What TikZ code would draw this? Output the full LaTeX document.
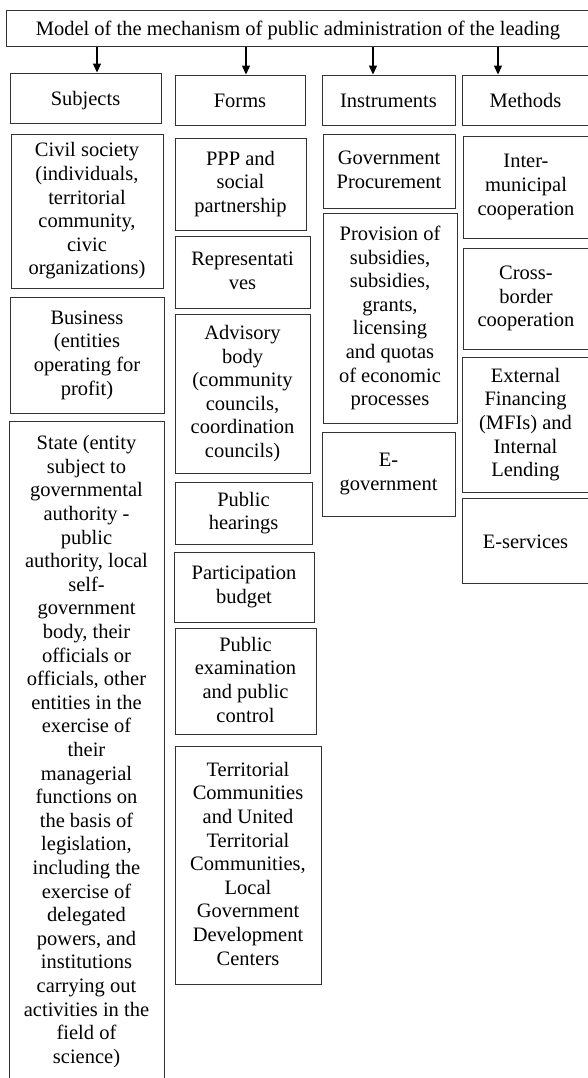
\documentclass[tikz,border=0pt]{standalone}
\usepackage{fontspec}
\setmainfont{Liberation Serif}
\usetikzlibrary{arrows.meta}

% box spanning (x1,y1)-(x2,y2) in pixel-like units, text centred
\newcommand\boxat[6]{%
  \node[box,minimum width=#4pt-#2pt,minimum height=#5pt-#3pt]
    (#1) at ({(#2+#4)/2},{(#3+#5)/2}) {#6};}
% fixed line box so that first/last lines centre like word-processor lines
\newcommand\linestrut{\rule[-3pt]{0pt}{22pt}}

\tikzset{
  box/.style={draw=black!80,line width=0.9pt,rectangle,inner sep=0pt,
    align=center,font=\fontsize{20.5}{23.6}\selectfont,
    execute at begin node=\linestrut,execute at end node=\linestrut},
  arr/.style={draw=black,line width=1.2pt,-{Triangle[length=9pt,width=8pt]}}
}

\begin{document}
\begin{tikzpicture}[x=1pt,y=-1pt]
\useasboundingbox (0,0) rectangle (587,1078);

% title
\boxat{title}{6}{10}{590}{46.7}{Model of the mechanism of public administration of the leading}

% column headers
\boxat{hsub}{10}{73}{161}{123}{Subjects}
\boxat{hform}{175}{75}{305}{125}{Forms}
\boxat{hinst}{322}{75}{455}{125}{Instruments}
\boxat{hmeth}{462}{75}{589}{125}{Methods}

\draw[arr] ([xshift=11.5]hsub.north |- title.south) -- ([xshift=11.5]hsub.north);
\draw[arr] ([xshift=6]hform.north |- title.south) -- ([xshift=6]hform.north);
\draw[arr] ([xshift=-15.5]hinst.north |- title.south) -- ([xshift=-15.5]hinst.north);
\draw[arr] ([xshift=-27.5]hmeth.north |- title.south) -- ([xshift=-27.5]hmeth.north);

% subjects
\boxat{civ}{11}{134}{163}{288}{Civil society\\(individuals,\\territorial\\community,\\civic\\organizations)}
\boxat{bus}{10}{297}{164}{413}{Business\\(entities\\operating for\\profit)}
\boxat{state}{9}{421}{164}{1082}{State (entity\\subject to\\governmental\\authority -\\public\\authority, local\\self-\\government\\body, their\\officials or\\officials, other\\entities in the\\exercise of\\their\\managerial\\functions on\\the basis of\\legislation,\\including the\\exercise of\\delegated\\powers, and\\institutions\\carrying out\\activities in the\\field of\\science)}

% forms
\boxat{ppp}{175}{138}{306}{230}{PPP and\\social\\partnership}
\boxat{rep}{175}{236}{310}{308}{Representati\\ves}
\boxat{adv}{175}{314}{310}{473}{Advisory\\body\\(community\\councils,\\coordination\\councils)}
\boxat{hear}{175}{482}{312}{544}{Public\\hearings}
\boxat{part}{174}{552}{314}{622}{Participation\\budget}
\boxat{exam}{175}{628}{316}{734}{Public\\examination\\and public\\control}
\boxat{terr}{175}{746}{321}{984}{Territorial\\Communities\\and United\\Territorial\\Communities,\\Local\\Government\\Development\\Centers}

% instruments
\boxat{proc}{323}{134}{455}{208}{Government\\Procurement}
\boxat{prov}{323}{213}{457}{423}{Provision of\\subsidies,\\subsidies,\\grants,\\licensing\\and quotas\\of economic\\processes}
\boxat{egov}{322}{432}{455}{516}{E-\\government}

% methods
\boxat{inter}{463}{136}{589}{238}{Inter-\\municipal\\cooperation}
\boxat{cross}{463}{248}{589}{349}{Cross-\\border\\cooperation}
\boxat{ext}{462}{357}{589}{492}{External\\Financing\\(MFIs) and\\Internal\\Lending}
\boxat{eserv}{462}{498}{589}{583}{E-services}
\end{tikzpicture}
\end{document}
